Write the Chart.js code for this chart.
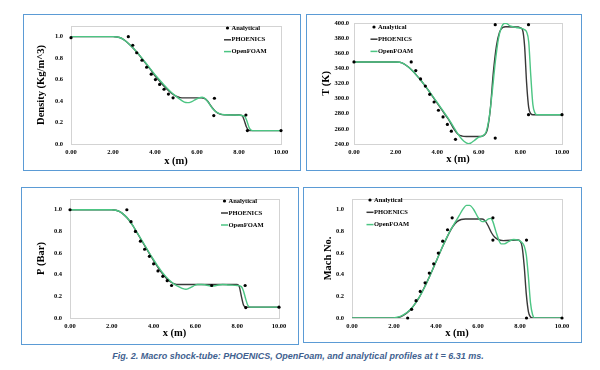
<!DOCTYPE html>
<html>
<head>
<meta charset="utf-8">
<script src="https://cdn.jsdelivr.net/npm/chart.js@4/dist/chart.umd.min.js"></script>
<style>
  body { margin: 0; background: #fff; width: 600px; height: 370px; position: relative; overflow: hidden; }
  .panel { position: absolute; border: 1.5px solid #5b9bd5; box-sizing: border-box; }
  canvas { position: absolute; }
  #caption { position: absolute; left: 0; top: 351px; width: 596px; text-align: center;
             font: italic bold 9px "Liberation Sans", sans-serif; color: #41618f; }
</style>
</head>
<body>
<div class="panel" style="left:23px;top:14px;width:278px;height:157px"></div>
<div class="panel" style="left:306px;top:14px;width:276px;height:157px"></div>
<div class="panel" style="left:21px;top:187px;width:278px;height:158px"></div>
<div class="panel" style="left:303px;top:187px;width:279px;height:156px"></div>
<canvas id="rho" width="278" height="157" style="left:23px;top:14px"></canvas>
<canvas id="temp" width="276" height="157" style="left:306px;top:14px"></canvas>
<canvas id="pres" width="278" height="158" style="left:21px;top:187px"></canvas>
<canvas id="mach" width="279" height="156" style="left:303px;top:187px"></canvas>
<div id="caption">Fig. 2. Macro shock-tube: PHOENICS, OpenFoam, and analytical profiles at t = 6.31 ms.</div>

<script>
// legend / series names
const seriesNames = ["Analytical", "PHOENICS", "OpenFOAM"];

// tick values
const xTicks = [0, 2, 4, 6, 8, 10];
const rhoTicks = [0, 0.2, 0.4, 0.6, 0.8, 1.0];
const tTicks = [240, 260, 280, 300, 320, 340, 360, 380, 400];
const pTicks = [0, 0.2, 0.4, 0.6, 0.8, 1.0];
const machTicks = [0, 0.2, 0.4, 0.6, 0.8, 1.0];

// Density
const rhoAnaX = [0, 2.73, 2.94, 3.13, 3.38, 3.6, 3.82, 4.02, 4.22, 4.43, 4.64, 4.86, 6.8, 6.83, 8.33, 8.4, 10];
const rhoAnaY = [0.99, 1.0, 0.92, 0.85, 0.78, 0.715, 0.65, 0.60, 0.555, 0.51, 0.465, 0.43, 0.265, 0.426, 0.27, 0.125, 0.125];
const rhoPhoX = [0, 2.0, 2.2, 2.4, 2.6, 2.8, 3.0, 3.2, 3.4, 3.6, 3.8, 4.0, 4.2, 4.4, 4.6, 4.8, 5.0, 5.2, 5.4, 6.2, 6.35, 6.5, 6.7, 6.9, 7.1, 7.3, 8.0, 8.15, 8.25, 8.35, 8.45, 8.6, 10];
const rhoPhoY = [1.0, 1.0, 0.997, 0.985, 0.96, 0.925, 0.885, 0.84, 0.79, 0.74, 0.69, 0.635, 0.59, 0.545, 0.505, 0.47, 0.445, 0.432, 0.43, 0.43, 0.425, 0.40, 0.345, 0.30, 0.278, 0.272, 0.27, 0.265, 0.22, 0.16, 0.13, 0.125, 0.125];
const rhoFoamX = [0, 2.0, 2.2, 2.4, 2.6, 2.8, 3.0, 3.2, 3.4, 3.6, 3.8, 4.0, 4.2, 4.4, 4.6, 4.8, 5.0, 5.2, 5.4, 5.55, 5.7, 5.9, 6.1, 6.25, 6.4, 6.55, 6.7, 6.9, 7.1, 7.3, 7.8, 8.0, 8.2, 8.3, 8.4, 8.5, 8.6, 8.7, 10];
const rhoFoamY = [1.0, 1.0, 0.997, 0.985, 0.96, 0.925, 0.885, 0.842, 0.795, 0.745, 0.695, 0.645, 0.60, 0.557, 0.515, 0.477, 0.445, 0.415, 0.39, 0.385, 0.39, 0.41, 0.43, 0.435, 0.42, 0.385, 0.34, 0.30, 0.28, 0.272, 0.27, 0.268, 0.262, 0.25, 0.20, 0.145, 0.127, 0.125, 0.125];

// Temperature
const tAnaX = [0, 2.75, 2.97, 3.2, 3.43, 3.64, 3.85, 4.06, 4.28, 4.49, 4.68, 4.88, 6.79, 6.79, 8.39, 8.39, 10];
const tAnaY = [348.4, 348.4, 337, 326, 316.5, 305.6, 295.5, 284.6, 275.8, 265.8, 257, 246.2, 247.8, 397.7, 397.7, 278.7, 278.7];
const tPhoX = [0, 2.0, 2.2, 2.4, 2.6, 2.8, 3.0, 3.2, 3.4, 3.6, 3.8, 4.0, 4.2, 4.4, 4.6, 4.8, 5.0, 5.2, 5.4, 6.1, 6.25, 6.4, 6.55, 6.7, 6.85, 7.0, 7.15, 7.3, 7.9, 8.0, 8.1, 8.2, 8.3, 8.4, 8.5, 8.6, 10];
const tPhoY = [348.4, 348.4, 348, 346, 342, 337, 331, 324.5, 317.5, 310, 302, 294, 286, 278, 270, 260, 253, 250.5, 250, 250, 251.5, 258, 285, 335, 370, 388, 394, 395, 394.5, 393.5, 391, 370, 320, 288, 280, 278.7, 278.7];
const tFoamX = [0, 2.0, 2.2, 2.4, 2.6, 2.8, 3.0, 3.2, 3.4, 3.6, 3.8, 4.0, 4.2, 4.4, 4.6, 4.8, 5.0, 5.2, 5.4, 5.5, 5.6, 5.8, 6.0, 6.2, 6.35, 6.5, 6.65, 6.8, 6.95, 7.1, 7.25, 7.35, 7.5, 7.8, 8.0, 8.2, 8.3, 8.4, 8.5, 8.6, 8.7, 8.8, 10];
const tFoamY = [348.4, 348.4, 348, 346, 342, 337, 331, 324.5, 317.5, 310, 302.5, 295, 287, 279, 271, 262, 253, 246, 241.5, 240.5, 241, 245, 249, 251, 256, 275, 310, 350, 380, 395, 399.5, 399, 396, 394, 393, 391, 388, 375, 330, 292, 281, 278.7, 278.7];

// Pressure
const pAnaX = [0, 2.72, 2.92, 3.13, 3.37, 3.57, 3.8, 4.0, 4.21, 4.44, 4.65, 4.86, 6.78, 8.38, 8.41, 10];
const pAnaY = [1.0, 1.0, 0.89, 0.80, 0.71, 0.635, 0.57, 0.50, 0.435, 0.385, 0.345, 0.30, 0.30, 0.30, 0.096, 0.1];
const pPhoX = [0, 2.0, 2.2, 2.4, 2.6, 2.8, 3.0, 3.2, 3.4, 3.6, 3.8, 4.0, 4.2, 4.4, 4.6, 4.8, 5.0, 5.2, 8.0, 8.1, 8.2, 8.3, 8.4, 8.5, 10];
const pPhoY = [1.0, 1.0, 0.995, 0.98, 0.95, 0.91, 0.855, 0.79, 0.725, 0.66, 0.595, 0.53, 0.47, 0.415, 0.37, 0.335, 0.315, 0.31, 0.31, 0.29, 0.20, 0.12, 0.102, 0.1, 0.1];
const pFoamX = [0, 2.0, 2.2, 2.4, 2.6, 2.8, 3.0, 3.2, 3.4, 3.6, 3.8, 4.0, 4.2, 4.4, 4.6, 4.8, 5.0, 5.2, 5.4, 5.55, 5.7, 5.9, 6.1, 6.3, 6.5, 6.8, 7.0, 7.3, 7.6, 8.0, 8.2, 8.3, 8.4, 8.5, 8.6, 8.7, 10];
const pFoamY = [1.0, 1.0, 0.995, 0.98, 0.95, 0.91, 0.855, 0.792, 0.728, 0.665, 0.60, 0.538, 0.48, 0.425, 0.38, 0.342, 0.31, 0.29, 0.272, 0.265, 0.275, 0.295, 0.31, 0.31, 0.305, 0.295, 0.30, 0.31, 0.305, 0.30, 0.29, 0.25, 0.18, 0.12, 0.102, 0.1, 0.1];

// Mach number
const mAnaX = [2.65, 2.84, 3.05, 3.25, 3.48, 3.68, 3.89, 4.11, 4.32, 4.55, 4.77, 6.71, 6.71, 8.31, 8.31, 10];
const mAnaY = [0, 0.08, 0.16, 0.245, 0.325, 0.415, 0.50, 0.60, 0.71, 0.815, 0.925, 0.925, 0.72, 0.72, 0, 0];
const mPhoX = [0, 2.0, 2.2, 2.4, 2.6, 2.8, 3.0, 3.2, 3.4, 3.6, 3.8, 4.0, 4.2, 4.4, 4.6, 4.8, 5.0, 5.2, 5.4, 6.2, 6.35, 6.5, 6.65, 6.8, 6.95, 7.2, 7.9, 8.0, 8.1, 8.2, 8.3, 8.4, 8.5, 8.6, 10];
const mPhoY = [0, 0, 0.005, 0.02, 0.045, 0.08, 0.13, 0.19, 0.265, 0.345, 0.43, 0.52, 0.61, 0.695, 0.775, 0.845, 0.89, 0.91, 0.915, 0.915, 0.895, 0.845, 0.785, 0.745, 0.725, 0.715, 0.72, 0.71, 0.66, 0.48, 0.22, 0.06, 0.01, 0, 0];
const mFoamX = [0, 1.9, 2.1, 2.3, 2.5, 2.7, 2.9, 3.1, 3.3, 3.5, 3.7, 3.9, 4.1, 4.3, 4.5, 4.7, 4.9, 5.1, 5.3, 5.45, 5.6, 5.8, 6.0, 6.2, 6.35, 6.5, 6.6, 6.7, 6.85, 7.0, 7.1, 7.25, 7.45, 7.7, 7.9, 8.05, 8.2, 8.3, 8.4, 8.5, 8.6, 8.7, 10];
const mFoamY = [0, 0, 0.005, 0.015, 0.035, 0.065, 0.105, 0.16, 0.225, 0.3, 0.385, 0.475, 0.565, 0.655, 0.74, 0.815, 0.88, 0.945, 1.01, 1.04, 1.04, 1.0, 0.93, 0.89, 0.895, 0.915, 0.92, 0.895, 0.8, 0.715, 0.685, 0.685, 0.705, 0.725, 0.72, 0.705, 0.665, 0.58, 0.38, 0.14, 0.03, 0, 0];

const GREEN = "#4cc583";
const DARK = "#383838";
const SERIF = "'Liberation Serif', 'Times New Roman', serif";

function zip(xs, ys) {
    return xs.map((x, i) => ({ x: x, y: ys[i] }));
}

// light grey box round the plot area
const plotFrame = {
    id: "plotFrame",
    beforeDatasetsDraw(chart) {
        const a = chart.chartArea;
        const ctx = chart.ctx;
        ctx.save();
        ctx.strokeStyle = "#d3d3d3";
        ctx.lineWidth = 1;
        ctx.strokeRect(Math.round(a.left) + 0.5, Math.round(a.top) + 0.5,
            Math.round(a.right - a.left), Math.round(a.bottom - a.top));
        ctx.restore();
    }
};

// small legend drawn inside the plot, like the Excel one
const keyBox = {
    id: "keyBox",
    afterDraw(chart, args, opts) {
        const ctx = chart.ctx;
        ctx.save();
        ctx.font = "bold 6.5px " + SERIF;
        ctx.textBaseline = "middle";
        ctx.fillStyle = "#000";
        seriesNames.forEach((name, i) => {
            const ds = chart.data.datasets.find(d => d.label === name);
            const y = opts.y + i * opts.dy;
            if (ds.showLine === false) {
                ctx.beginPath();
                ctx.arc(opts.x + 3.5, y, 1.6, 0, Math.PI * 2);
                ctx.fill();
            } else {
                ctx.strokeStyle = ds.borderColor;
                ctx.lineWidth = 1.5;
                ctx.beginPath();
                ctx.moveTo(opts.x, y);
                ctx.lineTo(opts.x + 7, y);
                ctx.stroke();
            }
            ctx.fillText(name, opts.x + 7.5, y);
        });
        ctx.restore();
    }
};

function makeChart(id, c) {
    const tickFont = { family: SERIF, size: 6.5, weight: "bold" };
    const titleFont = { family: SERIF, size: 10.5, weight: "bold" };
    return new Chart(document.getElementById(id), {
        type: "scatter",
        data: {
            datasets: [
                { label: seriesNames[0], data: zip(c.ana[0], c.ana[1]), showLine: false,
                  pointRadius: 1.6, pointBackgroundColor: "#000", pointBorderWidth: 0,
                  borderColor: "#000", clip: false, order: 0 },
                { label: seriesNames[2], data: zip(c.foam[0], c.foam[1]), showLine: true,
                  borderColor: GREEN, borderWidth: 1.4, pointRadius: 0,
                  cubicInterpolationMode: "monotone", order: 1 },
                { label: seriesNames[1], data: zip(c.pho[0], c.pho[1]), showLine: true,
                  borderColor: DARK, borderWidth: 1.4, pointRadius: 0,
                  cubicInterpolationMode: "monotone", order: 2 }
            ]
        },
        options: {
            responsive: false,
            animation: false,
            layout: { padding: { left: 0, top: c.top, right: c.right, bottom: 0 } },
            plugins: {
                legend: { display: false },
                tooltip: { enabled: false },
                keyBox: c.key
            },
            scales: {
                x: {
                    type: "linear", min: 0, max: 10,
                    afterBuildTicks: s => { s.ticks = xTicks.map(v => ({ value: v })); },
                    afterFit: s => { s.height = c.xh; },
                    grid: { display: false, drawTicks: false },
                    border: { display: false },
                    ticks: { padding: 4, color: "#000", font: tickFont, maxRotation: 0, autoSkip: false,
                             callback: v => v.toFixed(2) },
                    title: { display: true, text: "x (m)", color: "#000", font: titleFont,
                             padding: { top: 0, bottom: c.xpad } }
                },
                y: {
                    type: "linear", min: c.ymin, max: c.ymax,
                    afterBuildTicks: s => { s.ticks = c.yTicks.map(v => ({ value: v })); },
                    afterFit: s => { s.width = c.yw; },
                    grid: { display: false, drawTicks: false },
                    border: { display: false },
                    ticks: { padding: c.ytp, color: "#000", font: tickFont, autoSkip: false,
                             callback: v => v.toFixed(1) },
                    title: { display: true, text: c.ytitle, color: "#000", font: titleFont,
                             padding: { top: c.ypad, bottom: 0 } }
                }
            }
        },
        plugins: [plotFrame, keyBox]
    });
}

makeChart("rho", {
    ana: [rhoAnaX, rhoAnaY], pho: [rhoPhoX, rhoPhoY], foam: [rhoFoamX, rhoFoamY],
    yTicks: rhoTicks, ymin: 0, ymax: 1.1, ytitle: "Density (Kg/m^3)",
    top: 8, right: 20, yw: 48, xh: 27, ytp: 8, ypad: 12, xpad: 3.5,
    key: { x: 201, y: 14, dy: 11.8 }
});
makeChart("temp", {
    ana: [tAnaX, tAnaY], pho: [tPhoX, tPhoY], foam: [tFoamX, tFoamY],
    yTicks: tTicks, ymin: 240, ymax: 400, ytitle: "T (K)",
    top: 8, right: 20, yw: 48, xh: 27, ytp: 5, ypad: 14, xpad: 5,
    key: { x: 64.5, y: 13, dy: 12.2 }
});
makeChart("pres", {
    ana: [pAnaX, pAnaY], pho: [pPhoX, pPhoY], foam: [pFoamX, pFoamY],
    yTicks: pTicks, ymin: 0, ymax: 1.1, ytitle: "P (Bar)",
    top: 7, right: 20, yw: 49, xh: 27, ytp: 8, ypad: 14, xpad: 5,
    key: { x: 200, y: 14, dy: 12 }
});
makeChart("mach", {
    ana: [mAnaX, mAnaY], pho: [mPhoX, mPhoY], foam: [mFoamX, mFoamY],
    yTicks: machTicks, ymin: 0, ymax: 1.1, ytitle: "Mach No.",
    top: 7, right: 20, yw: 49, xh: 25, ytp: 8, ypad: 19, xpad: 3,
    key: { x: 63.5, y: 13, dy: 12.3 }
});
</script>
</body>
</html>
